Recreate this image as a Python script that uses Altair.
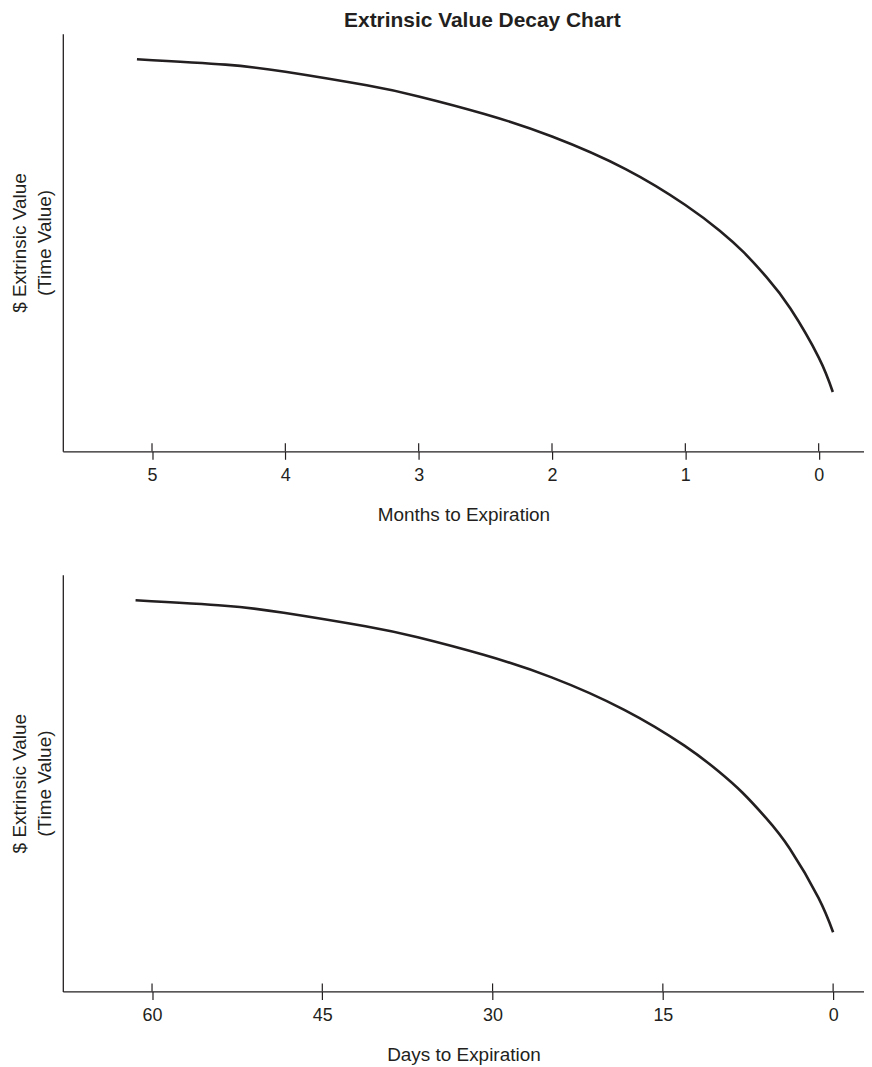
import altair as alt
import pandas as pd

# Curve (same shape in both panels)
months = [5.113, 4.449, 4.0, 3.390, 3.0, 2.507, 2.0, 1.448, 1.0, 0.742, 0.565, 0.388, 0.212, 0.0, -0.106]
days = [61.45, 53.6, 48.4, 41.2, 36.6, 30.8, 24.8, 18.4, 13.1, 10.1, 8.0, 5.9, 3.8, 1.3, 0.0]
value = [93.9, 92.6, 90.9, 87.65, 85.0, 80.8, 75.4, 67.6, 59.0, 52.85, 47.75, 41.6, 34.2, 22.5, 14.2]

month_ticks = [5, 4, 3, 2, 1, 0]
day_ticks = [60, 45, 30, 15, 0]

INK = "#231f20"
W = 804
FONT = "Liberation Sans"


def panel(xvals, ticks, domain, xtitle, H):
    df = pd.DataFrame({"x": xvals, "v": value})
    tdf = pd.DataFrame({"x": ticks})
    xscale = alt.Scale(domain=domain, reverse=True, nice=False, zero=False)
    xaxis = alt.Axis(values=ticks, title=xtitle, grid=False, tickSize=8,
                     tickWidth=1.2, tickColor=INK, domainColor=INK,
                     domainWidth=1.3, labelFontSize=18, labelColor=INK,
                     labelPadding=7, labelFlush=False, titleFontSize=19,
                     titleColor=INK, titleFontWeight="normal",
                     titlePadding=21, labelFont=FONT, titleFont=FONT)
    line = alt.Chart(df).mark_line(
        color=INK, strokeWidth=2.6, interpolate="natural"
    ).encode(
        x=alt.X("x:Q", scale=xscale, axis=xaxis),
        y=alt.Y("v:Q", scale=alt.Scale(domain=[0, 100], nice=False, zero=False),
                axis=alt.Axis(title=["$ Extrinsic Value", "(Time Value)"], labels=False,
                              ticks=False, grid=False, domainColor=INK, domainWidth=1.3,
                              titleFontSize=19, titleColor=INK, titleFontWeight="normal",
                              titleLineHeight=25, titlePadding=8, titleFont=FONT)),
    )
    up = alt.Chart(tdf).mark_rule(color=INK, strokeWidth=1.2).encode(
        x=alt.X("x:Q", scale=xscale, axis=xaxis),
        y=alt.value(H - 8),
        y2=alt.value(H),
    )
    return alt.layer(line, up).properties(width=W, height=H)


top = panel(months, month_ticks, [-0.340, 5.669], "Months to Expiration", 419)
bottom = panel(days, day_ticks, [-2.72, 67.86], "Days to Expiration", 418)

chart = alt.vconcat(top, bottom, spacing=51).properties(
    title=alt.Title("Extrinsic Value Decay Chart", fontSize=21, fontWeight="bold",
                    font=FONT, color=INK, anchor="middle", dx=45, offset=3),
    padding={"left": 3, "top": 0, "right": 0, "bottom": 0},
).configure(font=FONT).configure_view(stroke=None)

chart.save("out.html", embed_options={"renderer": "svg", "actions": False})
